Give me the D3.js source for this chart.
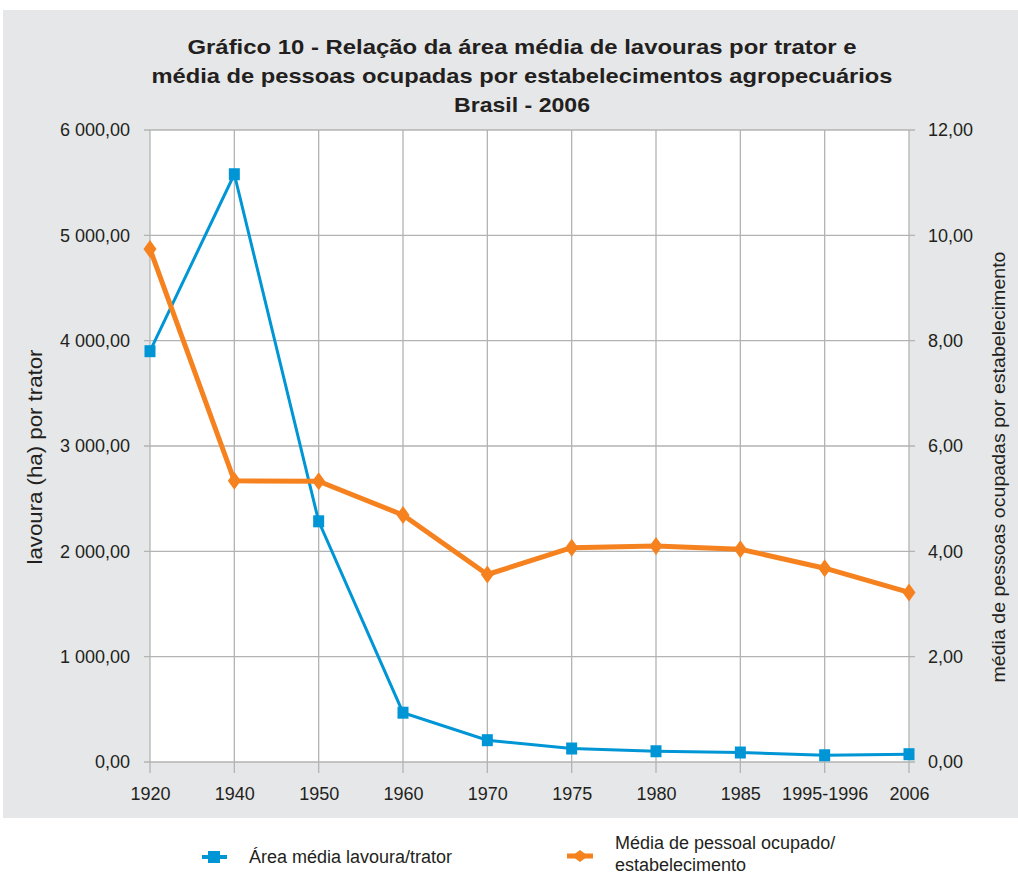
<!DOCTYPE html>
<html>
<head>
<meta charset="utf-8">
<script src="https://cdn.jsdelivr.net/npm/d3@7"></script>
<style>
  body { margin: 0; background: #fff; }
  text { font-family: "Liberation Sans", Arial, sans-serif; fill: #231f20; }
</style>
</head>
<body>
<svg id="chart" width="1018" height="874"></svg>
<script>
// data
const years = ["1920", "1940", "1950", "1960", "1970", "1975", "1980", "1985", "1995-1996", "2006"];
const areaPorTrator = [3900, 5580, 2285, 468, 207, 128, 102, 90, 64, 74];
const pessoasPorEstab = [9.74, 5.34, 5.33, 4.69, 3.56, 4.07, 4.10, 4.04, 3.68, 3.22];
const leftTicks = [0, 1000, 2000, 3000, 4000, 5000, 6000];
const rightTicks = [0, 2, 4, 6, 8, 10, 12];
const titleLines = [
    "Gráfico 10 - Relação da área média de lavouras por trator e",
    "média de pessoas ocupadas por estabelecimentos agropecuários",
    "Brasil - 2006"
];
const titleWidths = [669, 741, 136];

const blue = "#0096d6", orange = "#f5821f", grid = "#b3b3b3";

const margin = { top: 130, right: 109, bottom: 112, left: 150 },
    width = 1018 - margin.left - margin.right,
    height = 874 - margin.top - margin.bottom;

const svg = d3.select("#chart");

// grey panel
svg.append("rect").attr("x", 3).attr("y", 10).attr("width", 1015).attr("height", 808).attr("fill", "#e6e7e8");

// title
svg.append("g").selectAll("text")
    .data(titleLines)
    .join("text")
    .attr("x", 522)
    .attr("y", (d, i) => 54 + i * 29)
    .attr("text-anchor", "middle")
    .attr("font-size", 21)
    .attr("font-weight", "bold")
    .attr("textLength", (d, i) => titleWidths[i])
    .attr("lengthAdjust", "spacingAndGlyphs")
    .text(d => d);

const g = svg.append("g").attr("transform", `translate(${margin.left},${margin.top})`);

g.append("rect").attr("width", width).attr("height", height).attr("fill", "#fff");

const x = d3.scalePoint().domain(years).range([0, width]);
const yL = d3.scaleLinear().domain([0, 6000]).range([height, 0]);
const yR = d3.scaleLinear().domain([0, 12]).range([height, 0]);

const fmtL = v => d3.format(",.2f")(v).replace(/,/g, " ").replace(".", ",");
const fmtR = v => d3.format(".2f")(v).replace(".", ",");

// gridlines
g.append("g").selectAll("line").data(leftTicks).join("line")
    .attr("x1", -6).attr("x2", width + 6)
    .attr("y1", d => yL(d)).attr("y2", d => yL(d))
    .attr("stroke", grid).attr("stroke-width", 1.3);
g.append("g").selectAll("line").data(years).join("line")
    .attr("x1", d => x(d)).attr("x2", d => x(d))
    .attr("y1", 0).attr("y2", height + 11)
    .attr("stroke", grid).attr("stroke-width", 1.3);

// axes
const axL = g.append("g").call(d3.axisLeft(yL).tickValues(leftTicks).tickFormat(fmtL).tickSize(0).tickPadding(20));
const axR = g.append("g").attr("transform", `translate(${width},0)`)
    .call(d3.axisRight(yR).tickValues(rightTicks).tickFormat(fmtR).tickSize(0).tickPadding(19));
const axB = g.append("g").attr("transform", `translate(0,${height})`)
    .call(d3.axisBottom(x).tickSize(0).tickPadding(25));
[axL, axR, axB].forEach(a => {
    a.attr("font-family", null).attr("font-size", null);
    a.select(".domain").remove();
    a.selectAll("text").attr("font-size", 18).attr("fill", "#231f20");
});

// axis titles
svg.append("text")
    .attr("transform", "translate(42,457) rotate(-90)")
    .attr("text-anchor", "middle").attr("font-size", 20)
    .attr("textLength", 215).attr("lengthAdjust", "spacingAndGlyphs")
    .text("lavoura (ha) por trator");
svg.append("text")
    .attr("transform", "translate(1005,467) rotate(-90)")
    .attr("text-anchor", "middle").attr("font-size", 19)
    .attr("textLength", 431).attr("lengthAdjust", "spacingAndGlyphs")
    .text("média de pessoas ocupadas por estabelecimento");

// blue series
g.append("path")
    .datum(areaPorTrator)
    .attr("fill", "none").attr("stroke", blue).attr("stroke-width", 3)
    .attr("d", d3.line().x((d, i) => x(years[i])).y(d => yL(d)));
g.append("g").selectAll("rect").data(areaPorTrator).join("rect")
    .attr("x", (d, i) => x(years[i]) - 5.5).attr("y", d => yL(d) - 6)
    .attr("width", 11).attr("height", 12).attr("fill", blue);

// orange series
g.append("path")
    .datum(pessoasPorEstab)
    .attr("fill", "none").attr("stroke", orange).attr("stroke-width", 5).attr("stroke-linejoin", "round")
    .attr("d", d3.line().x((d, i) => x(years[i])).y(d => yR(d)));
const diamond = "M0,-9L6.5,0L0,9L-6.5,0Z";
g.append("g").selectAll("path").data(pessoasPorEstab).join("path")
    .attr("transform", (d, i) => `translate(${x(years[i])},${yR(d)})`)
    .attr("d", diamond).attr("fill", orange);

// legend
const lg = svg.append("g");
lg.append("line").attr("x1", 202).attr("x2", 227).attr("y1", 857).attr("y2", 857)
    .attr("stroke", blue).attr("stroke-width", 4);
lg.append("rect").attr("x", 208).attr("y", 851).attr("width", 12).attr("height", 12).attr("fill", blue);
lg.append("text").attr("x", 249).attr("y", 863).attr("font-size", 18).text("Área média lavoura/trator");

lg.append("line").attr("x1", 567).attr("x2", 593).attr("y1", 856).attr("y2", 856)
    .attr("stroke", orange).attr("stroke-width", 5);
lg.append("path").attr("transform", "translate(580,856)").attr("d", "M0,-6L8,0L0,6L-8,0Z").attr("fill", orange);
lg.append("text").attr("x", 615).attr("y", 849).attr("font-size", 18).text("Média de pessoal ocupado/");
lg.append("text").attr("x", 615).attr("y", 871).attr("font-size", 18).text("estabelecimento");
</script>
</body>
</html>
